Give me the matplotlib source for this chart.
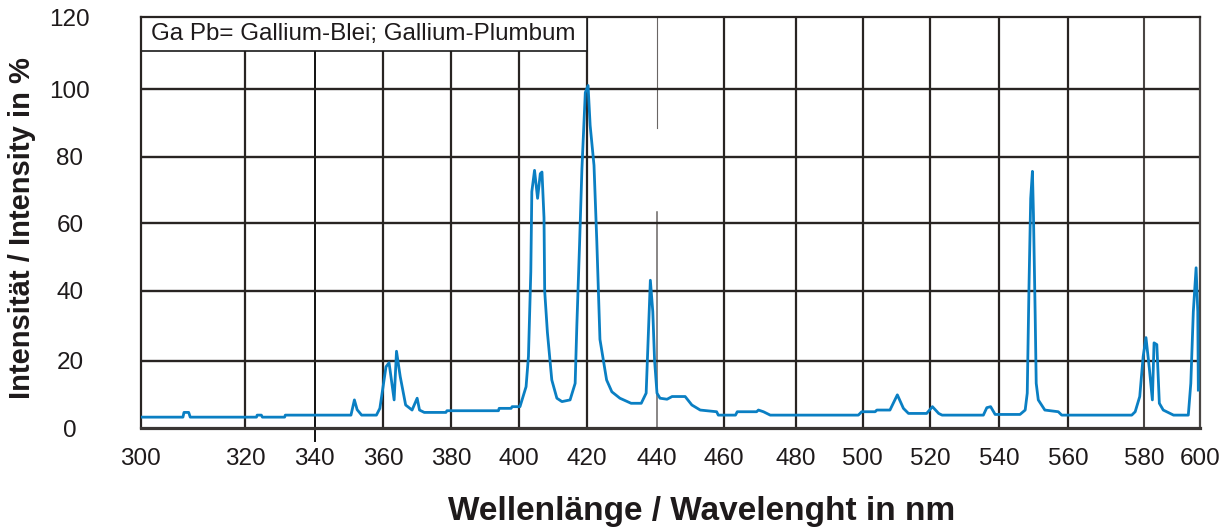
import numpy as np
import matplotlib
matplotlib.use("Agg")
import matplotlib.pyplot as plt
from matplotlib.patches import Rectangle
from matplotlib.transforms import blended_transform_factory

# ---------------- data ----------------
wavelength = [300, 308.1, 308.3, 309.2, 309.5, 323.3, 323.5, 324.7, 325.0, 331.4,
              331.6, 350.6, 351.6, 352.4, 353.7, 358.0, 359.0, 360.8, 361.7, 363.2,
              363.9, 365.0, 366.6, 368.5, 370.0, 370.7, 372.1, 378.5, 378.8, 393.9,
              394.1, 397.6, 397.9, 400.2, 402.0, 402.7, 403.4, 403.7, 404.5, 405.4,
              406.2, 406.7, 407.3, 407.5, 408.3, 409.6, 411.1, 412.6, 415.0, 416.5,
              417.0, 417.8, 418.5, 419.5, 420.3, 420.9, 422.0, 422.8, 423.7, 425.6,
              427.1, 429.4, 432.6, 435.5, 436.9, 437.4, 438.1, 438.8, 439.3, 440.0,
              440.9, 443.0, 444.5, 448.4, 450.4, 452.9, 457.8, 458.3, 463.2, 463.7,
              469.1, 469.6, 471.0, 472.9, 498.7, 499.7, 503.7, 504.2, 508.1, 510.3,
              512.1, 513.6, 519.0, 520.7, 522.5, 523.5, 535.4, 536.4, 537.5, 538.8,
              546.0, 547.5, 548.1, 548.6, 549.1, 549.6, 549.9, 550.4, 550.7, 551.3,
              553.2, 557.1, 558.1, 576.7, 577.6, 578.8, 579.7, 580.6, 581.8, 582.9,
              583.5, 584.5, 585.4, 586.8, 590.5, 595.8, 596.7, 597.6, 598.6, 599.2,
              599.4]
intensity = [3.3, 3.3, 4.7, 4.7, 3.3, 3.3, 3.9, 3.9, 3.3, 3.3,
             3.9, 3.9, 8.4, 5.5, 3.9, 3.9, 5.9, 18.2, 19.4, 8.4,
             22.7, 15.3, 6.9, 5.4, 8.9, 5.4, 4.7, 4.7, 5.2, 5.2,
             5.9, 5.9, 6.4, 6.4, 12.3, 21.2, 45.7, 69.5, 75.9, 67.5,
             74.9, 75.4, 61.6, 39.9, 28.1, 14.3, 8.9, 7.9, 8.4, 13.3,
             30.1, 53.7, 76.4, 99.1, 101.1, 89.3, 77.4, 54.7, 26.1, 14.3,
             10.8, 8.9, 7.4, 7.4, 10.4, 24.1, 43.1, 34.0, 20.2, 10.4,
             8.9, 8.6, 9.4, 9.4, 6.9, 5.4, 4.9, 3.9, 3.9, 4.9,
             4.9, 5.4, 4.9, 3.9, 3.9, 4.9, 4.9, 5.4, 5.4, 9.9,
             5.9, 4.4, 4.4, 6.4, 4.4, 3.9, 3.9, 6.1, 6.4, 4.1,
             4.1, 5.4, 10.4, 40.9, 67.5, 75.6, 62.6, 33.0, 13.3, 8.4,
             5.4, 4.9, 3.9, 3.9, 4.9, 9.4, 21.2, 26.6, 17.8, 8.4,
             25.1, 24.6, 7.4, 5.4, 3.9, 3.9, 13.3, 34.0, 46.8, 34.0,
             11.3]

x_ticks = [300, 320, 340, 360, 380, 400, 420, 440, 460, 480, 500, 520, 540, 560, 580, 600]
y_ticks = [0, 20, 40, 60, 80, 100, 120]
legend_text = "Ga Pb= Gallium-Blei; Gallium-Plumbum"
x_label = "Wellenlänge / Wavelenght in nm"
y_label = "Intensität / Intensity in %"

# ---------------- hand-drawn (uneven) axis scales ----------------
x_px = [140.7, 245, 314.5, 383.3, 451, 519.3, 587, 657, 724, 795.7, 862.7, 930,
        999.3, 1068.3, 1144.3, 1200]
y_px = [428.3, 360.7, 290.7, 223.3, 156.7, 89.5, 17.3]

xw = np.array([200] + x_ticks + [700], float)
xp = np.array([x_px[0] - 100 * 104.3 / 20] + x_px + [x_px[-1] + 100 * 56 / 20], float)
yv = np.array([-100] + y_ticks + [220], float)
yp = -np.array([y_px[0] + 100 * 3.38] + y_px + [y_px[-1] - 100 * 3.6], float)

def fx(v):
    return np.interp(v, xw, xp)
def ifx(p):
    return np.interp(p, xp, xw)
def fy(v):
    return np.interp(v, yv, yp)
def ify(p):
    return np.interp(p, yp, yv)

# ---------------- figure ----------------
W, H = 1231, 528
fig = plt.figure(figsize=(W / 100, H / 100), dpi=100)
left, right, top, bottom = 140.7, 1200, 17.3, 428.3
ax = fig.add_axes([left / W, 1 - bottom / H, (right - left) / W, (bottom - top) / H])
ax.set_xscale('function', functions=(fx, ifx))
ax.set_yscale('function', functions=(fy, ify))
ax.set_xlim(300, 600)
ax.set_ylim(0, 120)

text_col = '#1e1a1b'
grid_col = '#282422'
font = 'Liberation Sans'

# grid lines
for xv in x_ticks[1:-1]:
    if xv == 440:
        ax.axvline(xv, ymin=0.0, ymax=0.526, color='#6a6664', lw=1.1, zorder=1)
        ax.axvline(xv, ymin=0.731, ymax=1.0, color='#6a6664', lw=0.8, zorder=1)
    elif xv == 340:
        ax.axvline(xv, ymin=-0.03, ymax=1.0, color='#111111', lw=1.4, zorder=1, clip_on=False)
    elif xv == 580:
        ax.axvline(xv, color='#4a4644', lw=1.5, zorder=1)
    else:
        ax.axvline(xv, color=grid_col, lw=1.6, zorder=1)
for yv_ in y_ticks[1:-1]:
    ax.axhline(yv_, color=grid_col, lw=1.7, zorder=1)

for side in ['left', 'top']:
    ax.spines[side].set_color(grid_col)
    ax.spines[side].set_linewidth(1.6)
ax.spines['right'].set_color('#4a4644')
ax.spines['right'].set_linewidth(1.6)
ax.spines['bottom'].set_color('#3a3634')
ax.spines['bottom'].set_linewidth(2.3)

# legend box
trans = blended_transform_factory(ax.transData, ax.transAxes)
box_bottom = (bottom - 51.0) / (bottom - top)
ax.add_patch(Rectangle((300, box_bottom), 120, 1 - box_bottom, transform=trans,
                       facecolor='white', edgecolor='#1a1a1a', lw=1.2, zorder=2,
                       clip_on=False))
ax.text(302.0, (box_bottom + 1) / 2, legend_text, transform=trans, ha='left',
        va='center', fontsize=17.4, family=font, color=text_col, zorder=3)

# data
ax.plot(wavelength, intensity, color='#0a7fc3', lw=2.0, zorder=4,
        solid_joinstyle='round')

# ticks
ax.set_xticks(x_ticks)
ax.set_xticklabels([str(t) for t in x_ticks])
ax.set_yticks(y_ticks)
ax.set_yticklabels([str(t) for t in y_ticks])
ax.xaxis.set_minor_locator(matplotlib.ticker.NullLocator())
ax.yaxis.set_minor_locator(matplotlib.ticker.NullLocator())
ax.tick_params(axis='x', length=0, pad=14, labelsize=17.5, labelcolor=text_col)
ax.tick_params(axis='y', length=0, pad=51, labelsize=17.5, labelcolor=text_col)
for lbl in ax.get_xticklabels() + ax.get_yticklabels():
    lbl.set_fontfamily(font)
for lbl in ax.get_yticklabels():
    lbl.set_horizontalalignment('center')

# axis titles
fig.text(22 / W, 1 - 228.5 / H, y_label, rotation=90, ha='center', va='center',
         fontsize=21, fontweight='bold', family=font, color=text_col)
fig.text(702 / W, 1 - 520 / H, x_label, ha='center', va='baseline',
         fontsize=24, fontweight='bold', family=font, color=text_col)

fig.savefig('out.png', dpi=100)
